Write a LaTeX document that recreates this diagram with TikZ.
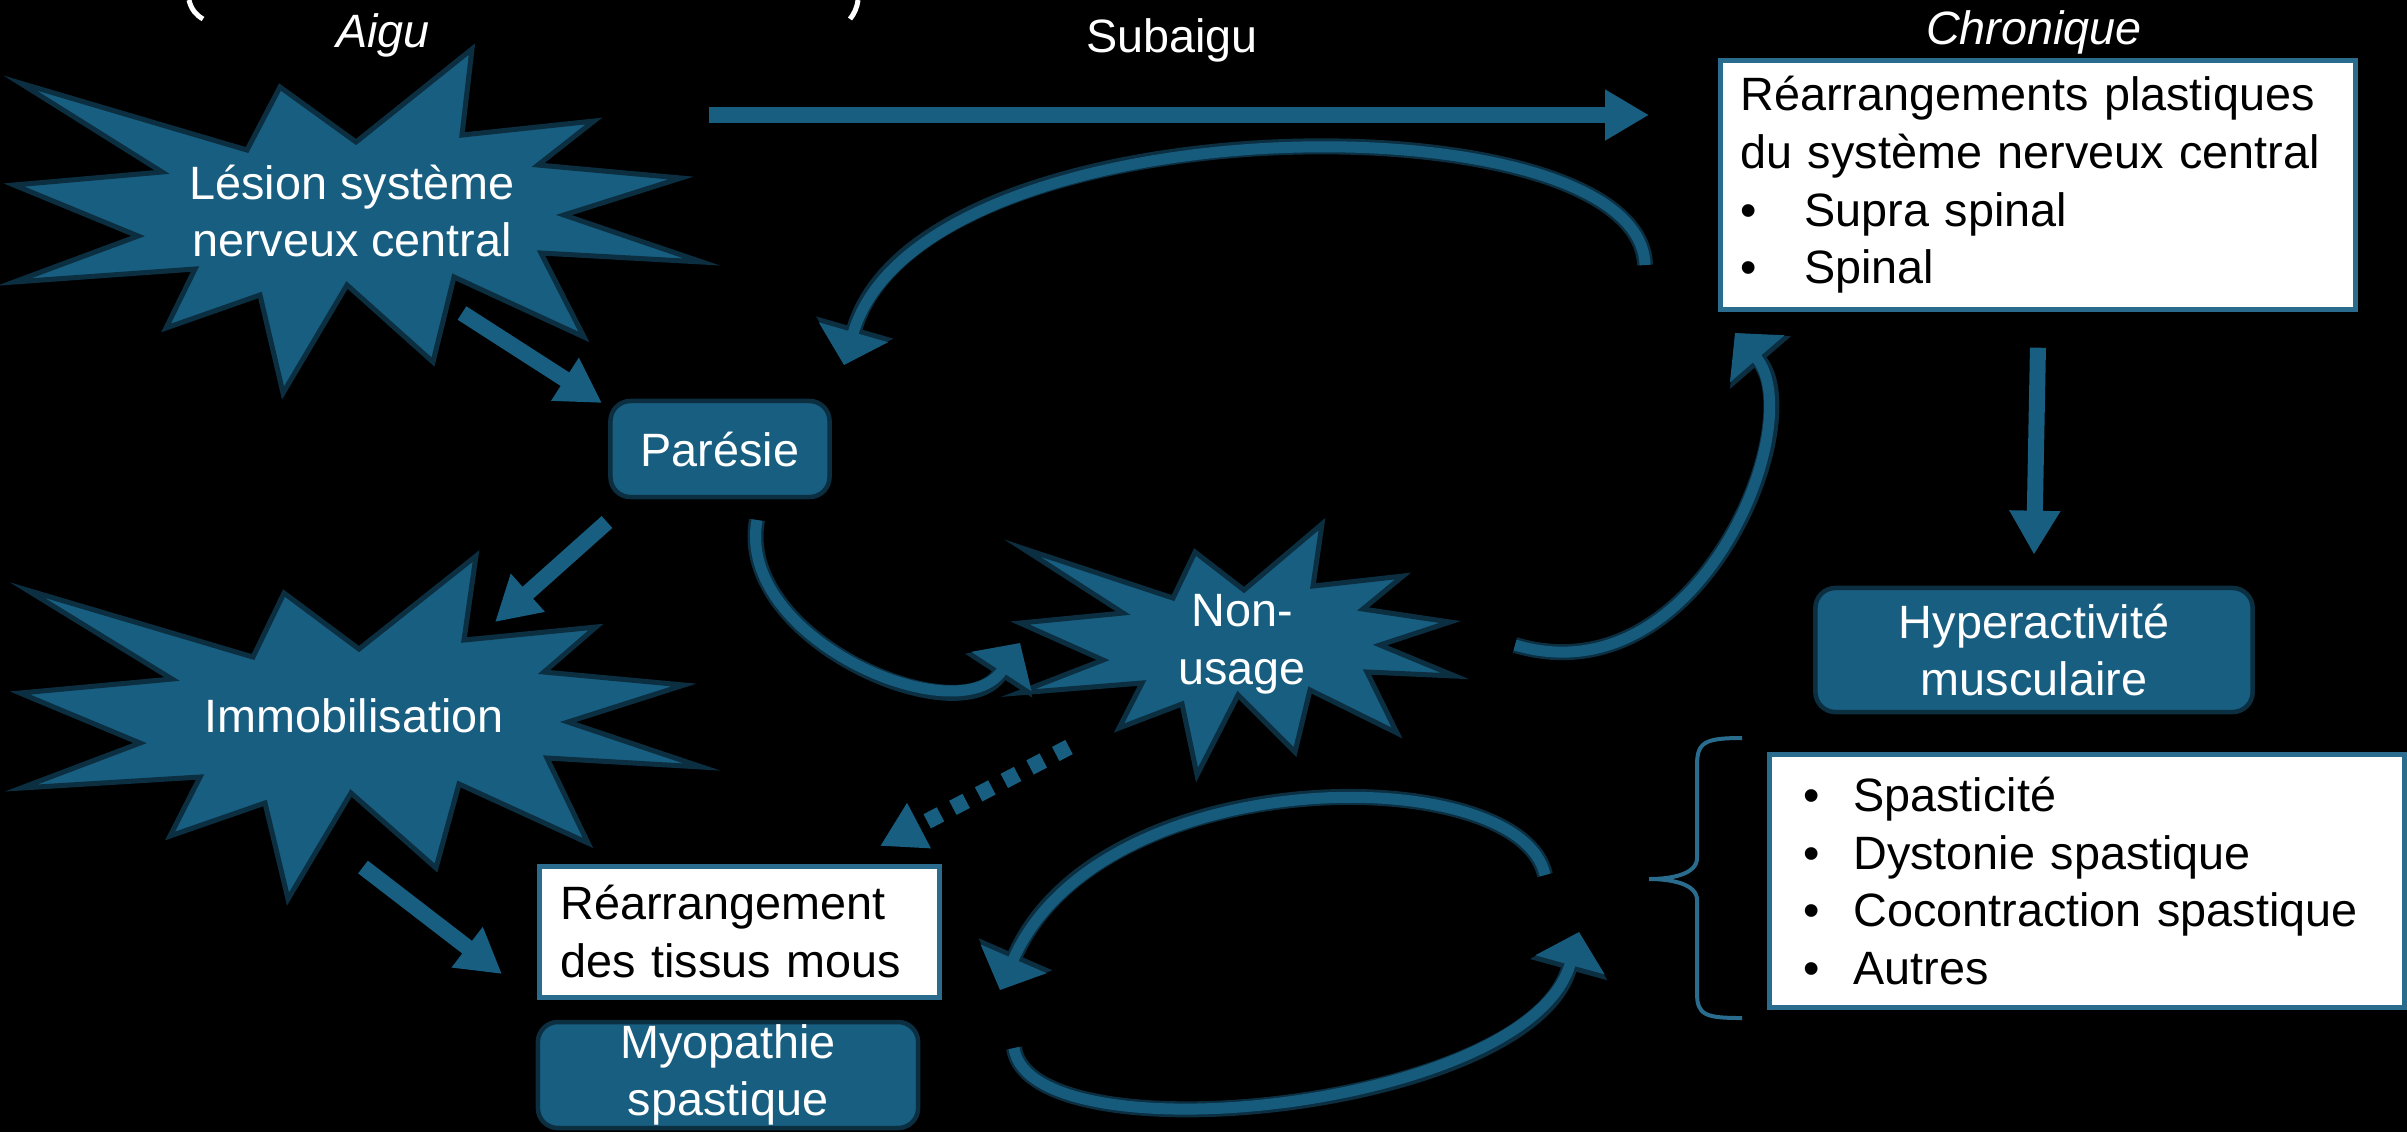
\documentclass[tikz,border=0pt]{standalone}
\usepackage{fontspec}
\setmainfont{Liberation Sans}
\usetikzlibrary{arrows.meta, positioning}
\definecolor{fillblue}{HTML}{175E80}
\definecolor{darkline}{HTML}{0B2E40}
\definecolor{boxline}{HTML}{2A6C8E}
\definecolor{arcblue}{HTML}{165B7C}
\tikzset{
  burst/.style={fill=fillblue, draw=darkline, line width=0.5mm, line join=miter},
  bluebox/.style={fill=fillblue, draw=darkline, line width=0.45mm, rounded corners=2mm,
    text=white, align=center, inner sep=0pt},
  whitebox/.style={fill=white, draw=boxline, line width=0.45mm, text=black, align=left,
    inner ysep=0pt, anchor=north west},
  bursttext/.style={text=white, align=center, inner sep=0pt},
  phase/.style={text=white, inner sep=0pt, anchor=base},
  blockarrow/.style={draw=fillblue, line width=1.6mm, -{Triangle[width=4.8mm,length=4.4mm]}},
  dotarrow/.style={blockarrow, dash pattern=on 1.5mm off 1.4mm},
  bendarrow/.style={draw=arcblue, line width=1.1mm, -{Triangle[width=7mm,length=3.4mm]},
    preaction={draw=darkline, line width=1.6mm, -{Triangle[width=7.8mm,length=3.9mm]}}}
}
\newcommand{\bul}[1][5.4mm]{\makebox[#1][l]{\textbullet}}

\begin{document}
\begin{tikzpicture}[x=0.01cm, y=-0.01cm, font=\fontsize{13.3}{16.4}\selectfont]
  \useasboundingbox (0,0) rectangle (2407,1132);
  \fill[black] (0,0) rectangle (2407,1132);
  \clip (0,0) rectangle (2407,1132);

  % title, cut at the top
  \draw[white, line width=0.5mm] (189,0) .. controls (191,9) and (196,15) .. (203,19);
  \draw[white, line width=0.5mm] (858,0) .. controls (857,8) and (854,14) .. (850,19);

  \node[phase] (aigu) at (383,47) {\itshape Aigu};
  \node[phase] (subaigu) at (1172,52) {Subaigu};
  \node[phase] (chronique) at (2034,44) {\itshape Chronique};

  % explosions
  \draw[burst] (20,83) -- (247,150) -- (280,87) -- (356,142) -- (472,49) -- (462,135)
    -- (594,121) -- (538,165) -- (681,178) -- (564,215) -- (702,262) -- (541,253)
    -- (584,337) -- (454,277) -- (433,362) -- (347,285) -- (283,393) -- (260,295)
    -- (166,328) -- (195,269) -- (14,282) -- (138,236) -- (14,185) -- (162,172) -- cycle;
  \node[bursttext] (lesion) at (352,211) {Lésion système\\nerveux central};

  \draw[burst] (27,590) -- (253,657) -- (284,593) -- (359,649) -- (476,556) -- (464,640)
    -- (596,627) -- (544,672) -- (684,685) -- (568,722) -- (702,767) -- (547,758)
    -- (588,843) -- (459,784) -- (436,868) -- (351,793) -- (288,899) -- (265,803)
    -- (170,836) -- (200,777) -- (21,788) -- (140,743) -- (20,693) -- (172,679) -- cycle;
  \node[bursttext] (immob) at (354,716) {Immobilisation};

  \draw[burst] (1022,548) -- (1173,598) -- (1195,552) -- (1244,590) -- (1322,524) -- (1313,586)
    -- (1403,576) -- (1363,609) -- (1450,622) -- (1380,645) -- (1455,676) -- (1367,672)
    -- (1397,733) -- (1310,690) -- (1295,752) -- (1238,695) -- (1197,775) -- (1182,704)
    -- (1119,728) -- (1142,683) -- (1018,693) -- (1103,660) -- (1020,623) -- (1123,613) -- cycle;
  \node[bursttext] (nonusage) at (1242,644) {Non-\\usage};

  % boxes
  \node[bluebox, minimum width=2.19cm, minimum height=0.96cm] (paresie) at (720,449) {Parésie};
  \node[bluebox, minimum width=4.37cm, minimum height=1.24cm] (hyper) at (2034,650)
    {Hyperactivité\\musculaire};
  \node[bluebox, minimum width=3.8cm, minimum height=1.06cm] (myopathie) at (728,1075)
    {Myopathie\\spastique};

  \node[whitebox, text width=5.95cm, inner xsep=2mm, minimum height=2.49cm] (plastic) at (1718,58)
    {Réarrangements plastiques\\du système nerveux central\\\bul[6.4mm]Supra spinal\\\bul[6.4mm]Spinal};
  \node[whitebox, text width=3.58cm, inner xsep=2.1mm, minimum height=1.31cm] (tissus) at (537,864)
    {Réarrangement\\des tissus mous};
  \node[whitebox, text width=5.67cm, inner xsep=3.4mm, minimum height=2.53cm] (types) at (1767,752)
    {\bul[5mm]Spasticité\\\bul[5mm]Dystonie spastique\\\bul[5mm]Cocontraction spastique\\\bul[5mm]Autres};

  % brace
  \draw[boxline, line width=0.4mm] (1742,738) .. controls (1705,738) and (1697,742) .. (1697,765)
    -- (1697,858) .. controls (1697,874) and (1672,879) .. (1649,879)
    .. controls (1672,879) and (1697,884) .. (1697,900) -- (1697,993)
    .. controls (1697,1015) and (1705,1018) .. (1742,1018);

  % straight arrows
  \coordinate (acute-out) at (709,115);
  \coordinate (chronic-in) at (1649,115);
  \coordinate (lesion-out) at (462,313);
  \coordinate (paresie-in) at (602,403);
  \coordinate (paresie-out) at (607,522);
  \coordinate (immob-in) at (495,622);
  \coordinate (immob-out) at (363,867);
  \coordinate (tissus-in) at (502,974);
  \draw[blockarrow] (acute-out) -- (chronic-in);
  \draw[blockarrow] (lesion-out) -- (paresie-in);
  \draw[blockarrow] (paresie-out) -- (immob-in);
  \draw[blockarrow] (immob-out) -- (tissus-in);
  \draw[blockarrow] ([yshift=-0.36cm]plastic.south) -- ([yshift=0.31cm]hyper.north);

  \coordinate (nonusage-out) at (1069,747);
  \coordinate (tissus-top) at (880,846);
  \draw[dotarrow] (nonusage-out) -- (tissus-top);

  % curved arrows
  \coordinate (plastic-loop) at (1645,265);
  \coordinate (paresie-top) at (844,365);
  \coordinate (paresie-loop) at (757,520);
  \coordinate (nonusage-in) at (1020,643);
  \coordinate (nonusage-loop) at (1515,645);
  \coordinate (plastic-in) at (1735,333);
  \coordinate (types-loop) at (1545,875);
  \coordinate (tissus-right) at (1000,990);
  \coordinate (myopathie-loop) at (1014,1048);
  \coordinate (types-in) at (1579,932);
  \draw[bendarrow] (plastic-loop) .. controls (1640,95) and (920,100) .. (paresie-top);
  \draw[bendarrow] (paresie-loop) .. controls (735,640) and (960,735) .. (nonusage-in);
  \draw[bendarrow] (nonusage-loop) .. controls (1700,700) and (1810,420) .. (plastic-in);
  \draw[bendarrow] (types-loop) .. controls (1520,760) and (1100,760) .. (tissus-right);
  \draw[bendarrow] (myopathie-loop) .. controls (1030,1160) and (1530,1110) .. (types-in);
\end{tikzpicture}
\end{document}
